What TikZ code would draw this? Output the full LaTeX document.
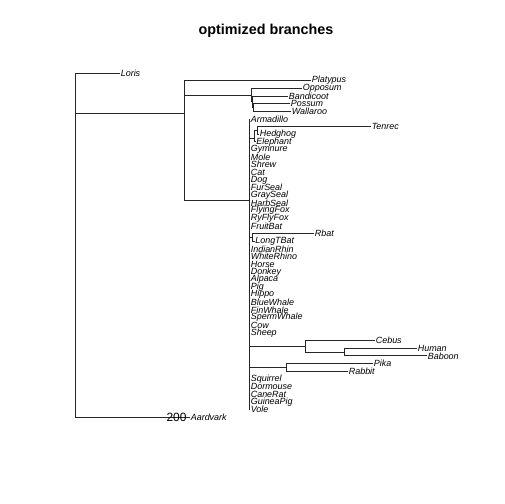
\documentclass[tikz,border=0pt]{standalone}
\usepackage{fontspec}
\setmainfont{Liberation Sans}
\newcommand\tipy[1]{73+7.644*#1}
\begin{document}
\begin{tikzpicture}[x=1bp,y=-1bp,
  br/.style={draw=black!85,line width=0.7bp},
  tip/.style={anchor=west,inner sep=0.6bp,font=\fontsize{9}{10}\selectfont\itshape},
  ttl/.style={font=\fontsize{14.4}{16}\selectfont\bfseries},
  scl/.style={font=\fontsize{12}{13}\selectfont,inner sep=0pt}]
\useasboundingbox (0,0) rectangle (504,504);
\node[ttl] (title) at (266,31) {optimized branches};
% tips
\node[tip] (Loris) at (120,{\tipy{0}}) {Loris};
\node[tip] (Platypus) at (311,{\tipy{1}}) {Platypus};
\node[tip] (Opposum) at (302,{\tipy{2}}) {Opposum};
\node[tip] (Bandicoot) at (288,{\tipy{3}}) {Bandicoot};
\node[tip] (Possum) at (290,{\tipy{4}}) {Possum};
\node[tip] (Wallaroo) at (291,{\tipy{5}}) {Wallaroo};
\node[tip] (Armadillo) at (250,{\tipy{6}}) {Armadillo};
\node[tip] (Tenrec) at (371,{\tipy{7}}) {Tenrec};
\node[tip] (Hedghog) at (259,{\tipy{8}}) {Hedghog};
\node[tip] (Elephant) at (255.5,{\tipy{9}}) {Elephant};
\node[tip] (Gymnure) at (250,{\tipy{10}}) {Gymnure};
\node[tip] (Mole) at (250,{\tipy{11}}) {Mole};
\node[tip] (Shrew) at (250,{\tipy{12}}) {Shrew};
\node[tip] (Cat) at (250,{\tipy{13}}) {Cat};
\node[tip] (Dog) at (250,{\tipy{14}}) {Dog};
\node[tip] (FurSeal) at (250,{\tipy{15}}) {FurSeal};
\node[tip] (GraySeal) at (250,{\tipy{16}}) {GraySeal};
\node[tip] (HarbSeal) at (250,{\tipy{17}}) {HarbSeal};
\node[tip] (FlyingFox) at (250,{\tipy{18}}) {FlyingFox};
\node[tip] (RyFlyFox) at (250,{\tipy{19}}) {RyFlyFox};
\node[tip] (FruitBat) at (250,{\tipy{20}}) {FruitBat};
\node[tip] (Rbat) at (314,{\tipy{21}}) {Rbat};
\node[tip] (LongTBat) at (254.5,{\tipy{22}}) {LongTBat};
\node[tip] (IndianRhin) at (250,{\tipy{23}}) {IndianRhin};
\node[tip] (WhiteRhino) at (250,{\tipy{24}}) {WhiteRhino};
\node[tip] (Horse) at (250,{\tipy{25}}) {Horse};
\node[tip] (Donkey) at (250,{\tipy{26}}) {Donkey};
\node[tip] (Alpaca) at (250,{\tipy{27}}) {Alpaca};
\node[tip] (Pig) at (250,{\tipy{28}}) {Pig};
\node[tip] (Hippo) at (250,{\tipy{29}}) {Hippo};
\node[tip] (BlueWhale) at (250,{\tipy{30}}) {BlueWhale};
\node[tip] (FinWhale) at (250,{\tipy{31}}) {FinWhale};
\node[tip] (SpermWhale) at (250,{\tipy{32}}) {SpermWhale};
\node[tip] (Cow) at (250,{\tipy{33}}) {Cow};
\node[tip] (Sheep) at (250,{\tipy{34}}) {Sheep};
\node[tip] (Cebus) at (375,{\tipy{35}}) {Cebus};
\node[tip] (Human) at (417,{\tipy{36}}) {Human};
\node[tip] (Baboon) at (427,{\tipy{37}}) {Baboon};
\node[tip] (Pika) at (373,{\tipy{38}}) {Pika};
\node[tip] (Rabbit) at (348,{\tipy{39}}) {Rabbit};
\node[tip] (Squirrel) at (250,{\tipy{40}}) {Squirrel};
\node[tip] (Dormouse) at (250,{\tipy{41}}) {Dormouse};
\node[tip] (CaneRat) at (250,{\tipy{42}}) {CaneRat};
\node[tip] (GuineaPig) at (250,{\tipy{43}}) {GuineaPig};
\node[tip] (Vole) at (250,{\tipy{44}}) {Vole};
\node[tip] (Aardvark) at (190,{\tipy{45}}) {Aardvark};
% internal nodes
\coordinate (R) at (75,113);
\coordinate (T) at (184,113);
\coordinate (P) at (253.5,{\tipy{4.5}});
\coordinate (N) at (252,{\tipy{3.75}});
\coordinate (M) at (251,{\tipy{2.9}});
\coordinate (Pl) at (249,200);
\coordinate (B) at (257.5,{\tipy{7.5}});
\coordinate (A) at (254,{\tipy{8.5}});
\coordinate (Rb) at (252.5,{\tipy{21.5}});
\coordinate (H) at (344,{\tipy{36.5}});
\coordinate (Pr) at (305,{\tipy{35.75}});
\coordinate (G) at (286,{\tipy{38.5}});
% branches
\draw[br] (R) |- (Loris.west);
\draw[br] (R) |- (Aardvark.west);
\draw[br] (R) -- (T);
\draw[br] (T) |- (Platypus.west);
\draw[br] (T) |- (M);
\draw[br] (T) |- (Pl);
\draw[br] (M) |- (Opposum.west);
\draw[br] (M) |- (N);
\draw[br] (N) |- (Bandicoot.west);
\draw[br] (N) |- (P);
\draw[br] (P) |- (Possum.west);
\draw[br] (P) |- (Wallaroo.west);
\foreach \t in {Armadillo,Gymnure,Mole,Shrew,Cat,Dog,FurSeal,GraySeal,HarbSeal,FlyingFox,RyFlyFox,FruitBat,IndianRhin,WhiteRhino,Horse,Donkey,Alpaca,Pig,Hippo,BlueWhale,FinWhale,SpermWhale,Cow,Sheep,Squirrel,Dormouse,CaneRat,GuineaPig,Vole}
  \draw[br] (Pl) |- (\t.west);
\draw[br] (Pl) |- (A);
\draw[br] (A) |- (B);
\draw[br] (A) |- (Elephant.west);
\draw[br] (B) |- (Tenrec.west);
\draw[br] (B) |- (Hedghog.west);
\draw[br] (Pl) |- (Rb);
\draw[br] (Rb) |- (Rbat.west);
\draw[br] (Rb) |- (LongTBat.west);
\draw[br] (Pl) |- (Pr);
\draw[br] (Pr) |- (Cebus.west);
\draw[br] (Pr) |- (H);
\draw[br] (H) |- (Human.west);
\draw[br] (H) |- (Baboon.west);
\draw[br] (Pl) |- (G);
\draw[br] (G) |- (Pika.west);
\draw[br] (G) |- (Rabbit.west);
\node[scl] (scale) at (176.5,{\tipy{45}}) {200};
\end{tikzpicture}
\end{document}
